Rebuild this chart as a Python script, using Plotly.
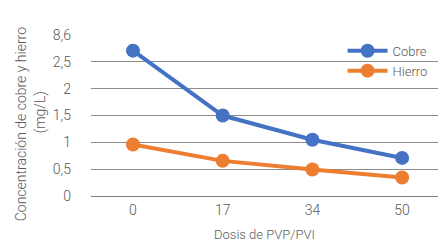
import plotly.graph_objects as go

dosis = ["0", "17", "34", "50"]
cobre = [2.71, 1.50, 1.05, 0.71]
hierro = [0.96, 0.655, 0.495, 0.345]
y_tickvals = [0, 0.5, 1, 1.5, 2, 2.5, 3]
y_ticktext = ["0", "0,5", "1", "1,5", "2", "2,5", "8,6"]

FONT = "Roboto"
GRAY = "#595959"
xpos = list(range(len(dosis)))

fig = go.Figure()
fig.add_trace(go.Scatter(x=xpos, y=cobre, name="Cobre", mode="lines+markers",
                         line=dict(color="#4472C4", width=4),
                         marker=dict(size=14, color="#4472C4"), cliponaxis=False))
fig.add_trace(go.Scatter(x=xpos, y=hierro, name="Hierro", mode="lines+markers",
                         line=dict(color="#ED7D31", width=4),
                         marker=dict(size=14, color="#ED7D31"), cliponaxis=False))

fig.update_layout(
    width=438, height=242,
    margin=dict(l=91, r=0, t=35, b=46),
    paper_bgcolor="white", plot_bgcolor="white",
    font=dict(family=FONT, color=GRAY, size=14, weight=300),
    showlegend=True,
    legend=dict(x=0.725, y=0.995, xanchor="left", yanchor="top",
                bgcolor="rgba(0,0,0,0)", font=dict(size=13, color=GRAY),
                tracegroupgap=0, itemwidth=40),
    xaxis=dict(tickvals=xpos, ticktext=dosis, range=[-0.468, 3.40],
               showgrid=False, zeroline=False, showline=True, linecolor="#808080",
               linewidth=1, ticks="", ticklabelstandoff=1, automargin=False,
               tickfont=dict(size=14, color=GRAY),
               title=dict(text="Dosis de PVP/PVI", font=dict(size=13, color=GRAY), standoff=16)),
    yaxis=dict(tickvals=y_tickvals, ticktext=y_ticktext, range=[0, 3.002],
               showgrid=True, gridcolor="#8c8c8c", gridwidth=1, zeroline=False,
               showline=False, ticks="", ticklabelstandoff=19, automargin=False,
               tickfont=dict(size=14, color=GRAY)),
)

fig.add_annotation(text="Concentración de cobre y hierro", textangle=-90,
                   xref="paper", yref="paper", x=(21 - 91) / 347, y=(195.7 - 124) / 161,
                   xanchor="center", yanchor="middle", showarrow=False,
                   font=dict(size=14, color=GRAY, family=FONT, weight=300))
fig.add_annotation(text="(mg/L)", textangle=-90,
                   xref="paper", yref="paper", x=(40 - 91) / 347, y=(195.7 - 112) / 161,
                   xanchor="center", yanchor="middle", showarrow=False,
                   font=dict(size=14, color=GRAY, family=FONT, weight=300))

fig.write_html("out.html", config={"displayModeBar": False},
               post_script="document.body.style.margin='0';document.body.style.overflow='hidden';")
